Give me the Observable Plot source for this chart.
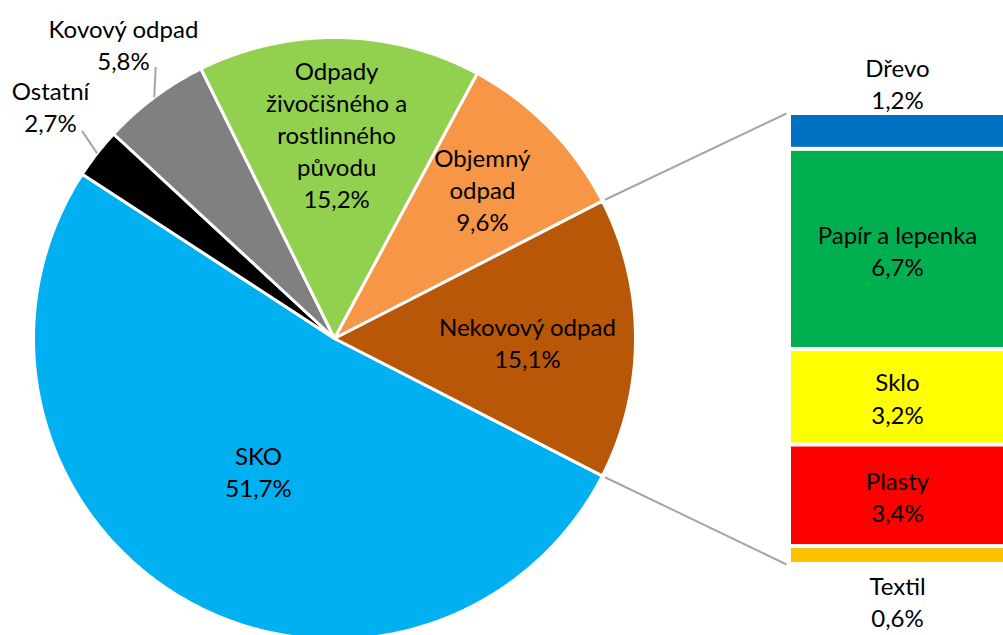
<!DOCTYPE html>
<html>
<head>
<meta charset="utf-8">
<script src="https://cdn.jsdelivr.net/npm/d3@7"></script>
<script src="https://cdn.jsdelivr.net/npm/@observablehq/plot@0.6"></script>
<style>
  html, body { margin: 0; padding: 0; background: #fff; }
  #chart { width: 1003px; height: 635px; overflow: hidden; }
</style>
</head>
<body>
<div id="chart"></div>
<script>
// ---- data ----
const pieNames  = ["SKO", "Ostatní", "Kovový odpad", "Odpady živočišného a rostlinného původu", "Objemný odpad", "Nekovový odpad"];
const pieLabels = ["SKO", "Ostatní", "Kovový odpad", "Odpady\nživočišného a\nrostlinného\npůvodu", "Objemný\nodpad", "Nekovový odpad"];
const pieValues = [51.7, 2.7, 5.8, 15.2, 9.6, 15.1];
const pieColors = ["#00b0f0", "#000000", "#808080", "#92d050", "#f79646", "#b85708"];

const barNames  = ["Dřevo", "Papír a lepenka", "Sklo", "Plasty", "Textil"];
const barValues = [1.2, 6.7, 3.2, 3.4, 0.6];
const barColors = ["#0070c0", "#00b050", "#ffff00", "#ff0000", "#ffc000"];

// ---- layout (pixels) ----
const barTop = 113, barBottom = 564, barLeft = 791, barRight = 1003;
const pieCX = 334, pieCY = 338, pieR = 301;
// label placement per slice: radius fraction, angle offset (deg), leader
const pieLabelLayout = [
  {f: 0.506, da: 0.2},
  {f: 1.22, da: -1.4, leader: [1.0, 1.086, -1.5]},
  {f: 1.205, da: -1.2, leader: [1.0, 1.08, -3.4]},
  {f: 0.681, da: 0.4},
  {f: 0.70, da: 1.0},
  {f: 0.641, da: -0.9}
];

const barTotal = d3.sum(barValues);
const u = (barBottom - barTop) / barTotal;   // px per percent unit
const X = px => px / u;
const Y = py => (barBottom - py) / u;
const cx = X(pieCX), cy = Y(pieCY), R = pieR / u;
const fmt = v => d3.format(".1f")(v).replace(".", ",") + "%";

// ---- pie geometry (clockwise, "other" slice centred at 3 o'clock) ----
const total = d3.sum(pieValues);
const otherIdx = pieValues.length - 1;
let a = -Math.PI * pieValues[otherIdx] / total;
const slices = pieValues.map((v, i) => {
  const a0 = a, a1 = a - 2 * Math.PI * v / total;
  a = a1;
  return {i, name: pieNames[i], value: v, a0, a1, mid: (a0 + a1) / 2, color: pieColors[i]};
});
const slicePts = [];
for (const s of slices) {
  const n = Math.max(8, Math.ceil(Math.abs(s.a1 - s.a0) / (Math.PI / 360)));
  slicePts.push({name: s.name, color: s.color, x: cx, y: cy});
  for (let k = 0; k <= n; k++) {
    const t = s.a0 + (s.a1 - s.a0) * k / n;
    slicePts.push({name: s.name, color: s.color, x: cx + R * Math.cos(t), y: cy + R * Math.sin(t)});
  }
  slicePts.push({name: s.name, color: s.color, x: cx, y: cy});
}
const pieText = slices.map(s => {
  const L = pieLabelLayout[s.i];
  const t = s.mid + L.da * Math.PI / 180;
  return {x: cx + L.f * R * Math.cos(t), y: cy + L.f * R * Math.sin(t), text: pieLabels[s.i] + "\n" + fmt(s.value)};
});
const leaders = slices.filter(s => pieLabelLayout[s.i].leader).map(s => {
  const [r0, r1, dA] = pieLabelLayout[s.i].leader;
  const t1 = s.mid + dA * Math.PI / 180;
  return {x1: cx + r0 * R * Math.cos(s.mid), y1: cy + r0 * R * Math.sin(s.mid),
          x2: cx + r1 * R * Math.cos(t1), y2: cy + r1 * R * Math.sin(t1)};
});

// ---- bar (stacked bottom to top) ----
const barData = barNames.map((n, i) => ({name: n, value: barValues[i], color: barColors[i]})).reverse();
let acc = 0;
for (const d of barData) { d.y0 = acc; acc += d.value; d.y1 = acc; d.mid = (d.y0 + d.y1) / 2; }
const insideBars = barData.filter(d => d.name !== "Dřevo" && d.name !== "Textil");
const topBar = barData[barData.length - 1];
const bottomBar = barData[0];

// connectors from the "other" slice edges to the bar corners
const oth = slices[otherIdx];
const gapR = R * 1.01;
const connectors = [
  {x1: cx + gapR * Math.cos(oth.a0), y1: cy + gapR * Math.sin(oth.a0), x2: X(barLeft - 5), y2: barTotal},
  {x1: cx + gapR * Math.cos(oth.a1), y1: cy + gapR * Math.sin(oth.a1), x2: X(barLeft - 5), y2: 0}
];

const font = "Lato, 'Open Sans', sans-serif";
const fs = 24, lh = 1.34;

const chart = Plot.plot({
  width: 1003,
  height: 635,
  margin: 0,
  x: {domain: [0, 1], range: [0, u], axis: null},
  y: {domain: [0, barTotal], range: [barBottom, barTop], axis: null},
  color: {type: "identity"},
  style: {fontFamily: font, background: "#fff"},
  marks: [
    Plot.line(slicePts, {x: "x", y: "y", z: "name", fill: "color", stroke: "#fff", strokeWidth: 3, strokeLinejoin: "round", curve: "linear"}),
    Plot.link(connectors, {x1: "x1", y1: "y1", x2: "x2", y2: "y2", stroke: "#a6a6a6", strokeWidth: 2}),
    Plot.link(leaders, {x1: "x1", y1: "y1", x2: "x2", y2: "y2", stroke: "#a6a6a6", strokeWidth: 2}),
    Plot.rectY(barData, {x1: () => X(barLeft), x2: () => X(barRight), y: "value", fill: "color", insetTop: 2, insetBottom: 2}),
    Plot.text(pieText, {x: "x", y: "y", text: "text", fontSize: fs, lineHeight: lh, fill: "#000", fontFamily: font}),
    Plot.text(insideBars, {x: () => X((barLeft + barRight) / 2), y: "mid", text: d => d.name + "\n" + fmt(d.value), fontSize: fs, lineHeight: lh, fill: "#000", fontFamily: font}),
    Plot.text([topBar], {x: () => X((barLeft + barRight) / 2), y: "y1", dy: -31, text: d => d.name + "\n" + fmt(d.value), fontSize: fs, lineHeight: lh, fill: "#000", fontFamily: font}),
    Plot.text([bottomBar], {x: () => X((barLeft + barRight) / 2), y: "y0", dy: 36, text: d => d.name + "\n" + fmt(d.value), fontSize: fs, lineHeight: lh, fill: "#000", fontFamily: font})
  ]
});
document.getElementById("chart").appendChild(chart);
</script>
</body>
</html>
